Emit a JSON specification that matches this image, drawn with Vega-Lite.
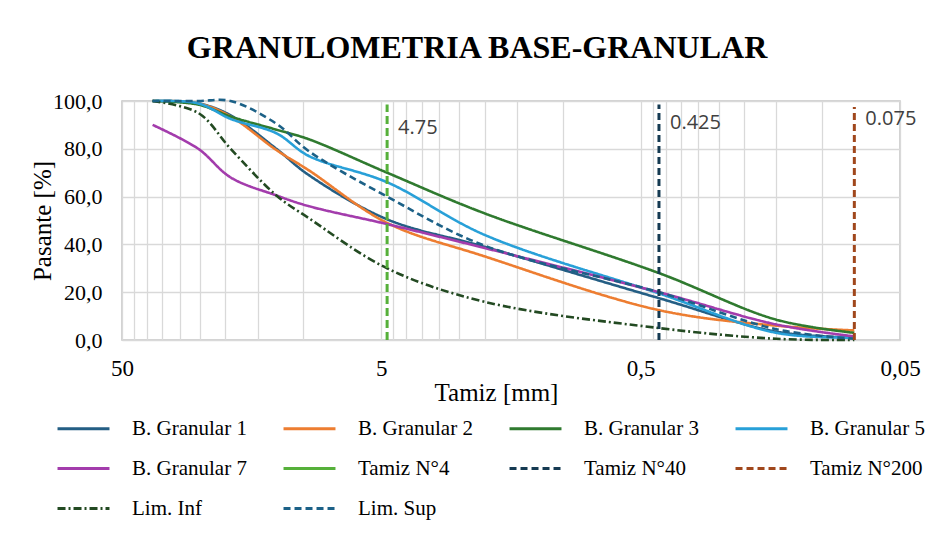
{
  "$schema": "https://vega.github.io/schema/vega-lite/v6.json",
  "width": 778,
  "height": 239,
  "autosize": {"type": "none"},
  "padding": {"left": 122, "top": 101, "right": 49, "bottom": 204},
  "background": "white",
  "config": {
    "font": "Liberation Serif",
    "view": {"stroke": "#c4c4c4", "strokeWidth": 1.5},
    "axis": {
      "grid": true,
      "gridColor": "#d9d9d9",
      "gridWidth": 1.3,
      "ticks": false,
      "domain": false,
      "labelColor": "#000000",
      "labelFont": "Liberation Serif",
      "titleFont": "Liberation Serif",
      "titleColor": "#000000",
      "titleFontWeight": "normal",
      "labelOverlap": false,
      "labelFlush": false
    },
    "legend": {
      "orient": "none",
      "direction": "horizontal",
      "legendX": -66,
      "legendY": 300,
      "columns": 4,
      "symbolType": "stroke",
      "symbolSize": 2700,
      "symbolStrokeWidth": 3,
      "labelFont": "Liberation Serif",
      "labelFontSize": 21,
      "labelColor": "#000000",
      "labelOffset": 21,
      "columnPadding": 30,
      "rowPadding": 2
    }
  },
  "title": {
    "text": "GRANULOMETRIA BASE-GRANULAR",
    "font": "Liberation Serif",
    "fontSize": 32,
    "fontWeight": "bold",
    "color": "#000000",
    "anchor": "middle",
    "dx": -34,
    "baseline": "alphabetic",
    "offset": 0
  },
  "datasets": {
    "curvas": [
      {"serie": "B. Granular 1", "tamiz": 38.1, "pasante": 100},
      {"serie": "B. Granular 1", "tamiz": 25.4, "pasante": 99},
      {"serie": "B. Granular 1", "tamiz": 19.05, "pasante": 94},
      {"serie": "B. Granular 1", "tamiz": 12.7, "pasante": 80},
      {"serie": "B. Granular 1", "tamiz": 9.52, "pasante": 69},
      {"serie": "B. Granular 1", "tamiz": 4.75, "pasante": 50.5},
      {"serie": "B. Granular 1", "tamiz": 2.0, "pasante": 39},
      {"serie": "B. Granular 1", "tamiz": 0.425, "pasante": 17.5},
      {"serie": "B. Granular 1", "tamiz": 0.15, "pasante": 3.5},
      {"serie": "B. Granular 1", "tamiz": 0.075, "pasante": 1},
      {"serie": "B. Granular 2", "tamiz": 38.1, "pasante": 100},
      {"serie": "B. Granular 2", "tamiz": 25.4, "pasante": 99},
      {"serie": "B. Granular 2", "tamiz": 19.05, "pasante": 93.5},
      {"serie": "B. Granular 2", "tamiz": 12.7, "pasante": 79.5},
      {"serie": "B. Granular 2", "tamiz": 9.52, "pasante": 71},
      {"serie": "B. Granular 2", "tamiz": 4.75, "pasante": 49},
      {"serie": "B. Granular 2", "tamiz": 2.0, "pasante": 35},
      {"serie": "B. Granular 2", "tamiz": 0.425, "pasante": 12.5},
      {"serie": "B. Granular 2", "tamiz": 0.15, "pasante": 6},
      {"serie": "B. Granular 2", "tamiz": 0.075, "pasante": 4},
      {"serie": "B. Granular 3", "tamiz": 38.1, "pasante": 100},
      {"serie": "B. Granular 3", "tamiz": 25.4, "pasante": 98.5},
      {"serie": "B. Granular 3", "tamiz": 19.05, "pasante": 93.5},
      {"serie": "B. Granular 3", "tamiz": 12.7, "pasante": 88},
      {"serie": "B. Granular 3", "tamiz": 9.52, "pasante": 84},
      {"serie": "B. Granular 3", "tamiz": 4.75, "pasante": 70},
      {"serie": "B. Granular 3", "tamiz": 2.0, "pasante": 53},
      {"serie": "B. Granular 3", "tamiz": 0.425, "pasante": 28},
      {"serie": "B. Granular 3", "tamiz": 0.15, "pasante": 8.5},
      {"serie": "B. Granular 3", "tamiz": 0.075, "pasante": 3},
      {"serie": "B. Granular 5", "tamiz": 38.1, "pasante": 100},
      {"serie": "B. Granular 5", "tamiz": 25.4, "pasante": 99},
      {"serie": "B. Granular 5", "tamiz": 19.05, "pasante": 92.5},
      {"serie": "B. Granular 5", "tamiz": 12.7, "pasante": 86.5},
      {"serie": "B. Granular 5", "tamiz": 9.52, "pasante": 77},
      {"serie": "B. Granular 5", "tamiz": 4.75, "pasante": 66},
      {"serie": "B. Granular 5", "tamiz": 2.0, "pasante": 44},
      {"serie": "B. Granular 5", "tamiz": 0.425, "pasante": 19.5},
      {"serie": "B. Granular 5", "tamiz": 0.15, "pasante": 3},
      {"serie": "B. Granular 5", "tamiz": 0.075, "pasante": 1},
      {"serie": "B. Granular 7", "tamiz": 38.1, "pasante": 90},
      {"serie": "B. Granular 7", "tamiz": 25.4, "pasante": 80},
      {"serie": "B. Granular 7", "tamiz": 19.05, "pasante": 68},
      {"serie": "B. Granular 7", "tamiz": 12.7, "pasante": 60.5},
      {"serie": "B. Granular 7", "tamiz": 9.52, "pasante": 56},
      {"serie": "B. Granular 7", "tamiz": 4.75, "pasante": 48.5},
      {"serie": "B. Granular 7", "tamiz": 2.0, "pasante": 38.5},
      {"serie": "B. Granular 7", "tamiz": 0.425, "pasante": 20},
      {"serie": "B. Granular 7", "tamiz": 0.15, "pasante": 6.5},
      {"serie": "B. Granular 7", "tamiz": 0.075, "pasante": 1.5},
      {"serie": "Lim. Inf", "tamiz": 38.1, "pasante": 100},
      {"serie": "Lim. Inf", "tamiz": 25.4, "pasante": 95},
      {"serie": "Lim. Inf", "tamiz": 19.05, "pasante": 80},
      {"serie": "Lim. Inf", "tamiz": 12.7, "pasante": 60.5},
      {"serie": "Lim. Inf", "tamiz": 9.52, "pasante": 51},
      {"serie": "Lim. Inf", "tamiz": 4.75, "pasante": 30},
      {"serie": "Lim. Inf", "tamiz": 2.0, "pasante": 16},
      {"serie": "Lim. Inf", "tamiz": 0.425, "pasante": 5},
      {"serie": "Lim. Inf", "tamiz": 0.15, "pasante": 0.5},
      {"serie": "Lim. Inf", "tamiz": 0.075, "pasante": 0},
      {"serie": "Lim. Sup", "tamiz": 38.1, "pasante": 100},
      {"serie": "Lim. Sup", "tamiz": 25.4, "pasante": 100},
      {"serie": "Lim. Sup", "tamiz": 19.05, "pasante": 100},
      {"serie": "Lim. Sup", "tamiz": 12.7, "pasante": 90.5},
      {"serie": "Lim. Sup", "tamiz": 9.52, "pasante": 79},
      {"serie": "Lim. Sup", "tamiz": 4.75, "pasante": 60},
      {"serie": "Lim. Sup", "tamiz": 2.0, "pasante": 39.5},
      {"serie": "Lim. Sup", "tamiz": 0.425, "pasante": 20},
      {"serie": "Lim. Sup", "tamiz": 0.15, "pasante": 4.5},
      {"serie": "Lim. Sup", "tamiz": 0.075, "pasante": 0.5}
    ],
    "verticales": [
      {"serie": "Tamiz N°4", "tamiz": 4.75, "pasante": 0},
      {"serie": "Tamiz N°4", "tamiz": 4.75, "pasante": 98.5},
      {"serie": "Tamiz N°40", "tamiz": 0.425, "pasante": 0},
      {"serie": "Tamiz N°40", "tamiz": 0.425, "pasante": 98.5},
      {"serie": "Tamiz N°200", "tamiz": 0.075, "pasante": 0},
      {"serie": "Tamiz N°200", "tamiz": 0.075, "pasante": 97.5}
    ],
    "etiquetas": [
      {"tamiz": 4.75, "pasante": 88.5, "texto": "4.75"},
      {"tamiz": 0.425, "pasante": 91, "texto": "0.425"},
      {"tamiz": 0.075, "pasante": 92.3, "texto": "0.075"}
    ]
  },
  "encoding": {
    "x": {
      "field": "tamiz",
      "type": "quantitative",
      "scale": {"type": "log", "domain": [0.05, 50], "reverse": true, "nice": false},
      "axis": {
        "values": [0.05, 0.1, 0.15, 0.2, 0.25, 0.3, 0.35, 0.4, 0.45, 0.5, 1, 1.5, 2, 2.5, 3, 3.5, 4, 4.5, 5, 10, 15, 20, 25, 30, 35, 40, 45, 50],
        "labelExpr": "datum.value == 50 ? '50' : datum.value == 5 ? '5' : datum.value == 0.5 ? '0,5' : datum.value == 0.05 ? '0,05' : ''",
        "labelFontSize": 23,
        "labelPadding": 17,
        "title": "Tamiz [mm]",
        "titleFontSize": 25,
        "titlePadding": 0,
        "titleX": 374
      }
    },
    "y": {
      "field": "pasante",
      "type": "quantitative",
      "scale": {"domain": [0, 100], "nice": false},
      "axis": {
        "values": [0, 20, 40, 60, 80, 100],
        "labelExpr": "replace(format(datum.value, '.1f'), '.', ',')",
        "labelFontSize": 22,
        "labelPadding": 20,
        "title": "Pasante [%]",
        "titleFontSize": 25,
        "titlePadding": -3
      }
    }
  },
  "layer": [
    {
      "data": {"name": "curvas"},
      "mark": {"type": "line", "interpolate": "catmull-rom", "strokeWidth": 2.6},
      "encoding": {
        "color": {
          "field": "serie", "type": "nominal", "title": null,
          "scale": {
            "domain": ["B. Granular 1", "B. Granular 2", "B. Granular 3", "B. Granular 5", "B. Granular 7", "Tamiz N°4", "Tamiz N°40", "Tamiz N°200", "Lim. Inf", "Lim. Sup"],
            "range": ["#245e84", "#ed7d31", "#2f7a2f", "#28a0d8", "#a33cac", "#56b03a", "#153a52", "#a0471c", "#234a22", "#1c6187"]
          }
        },
        "strokeDash": {
          "field": "serie", "type": "nominal", "title": null,
          "scale": {
            "domain": ["B. Granular 1", "B. Granular 2", "B. Granular 3", "B. Granular 5", "B. Granular 7", "Tamiz N°4", "Tamiz N°40", "Tamiz N°200", "Lim. Inf", "Lim. Sup"],
            "range": [[1, 0], [1, 0], [1, 0], [1, 0], [1, 0], [1, 0], [7, 4], [7, 4], [8, 3, 2, 3], [7, 4]]
          }
        }
      }
    },
    {
      "data": {"name": "verticales"},
      "transform": [{"filter": "datum.serie != 'Tamiz N°4'"}],
      "mark": {"type": "line", "strokeWidth": 3},
      "encoding": {
        "detail": {"field": "serie"},
        "color": {"field": "serie", "type": "nominal", "title": null},
        "strokeDash": {"field": "serie", "type": "nominal", "title": null}
      }
    },
    {
      "data": {"name": "verticales"},
      "transform": [{"filter": "datum.serie == 'Tamiz N°4'"}],
      "mark": {"type": "line", "strokeWidth": 3, "strokeDash": [8, 4]},
      "encoding": {
        "color": {"field": "serie", "type": "nominal", "title": null}
      }
    },
    {
      "data": {"name": "etiquetas"},
      "mark": {"type": "text", "font": "Open Sans", "fontSize": 20, "color": "#404040", "align": "left", "baseline": "middle", "dx": 11},
      "encoding": {
        "text": {"field": "texto"}
      }
    }
  ]
}
